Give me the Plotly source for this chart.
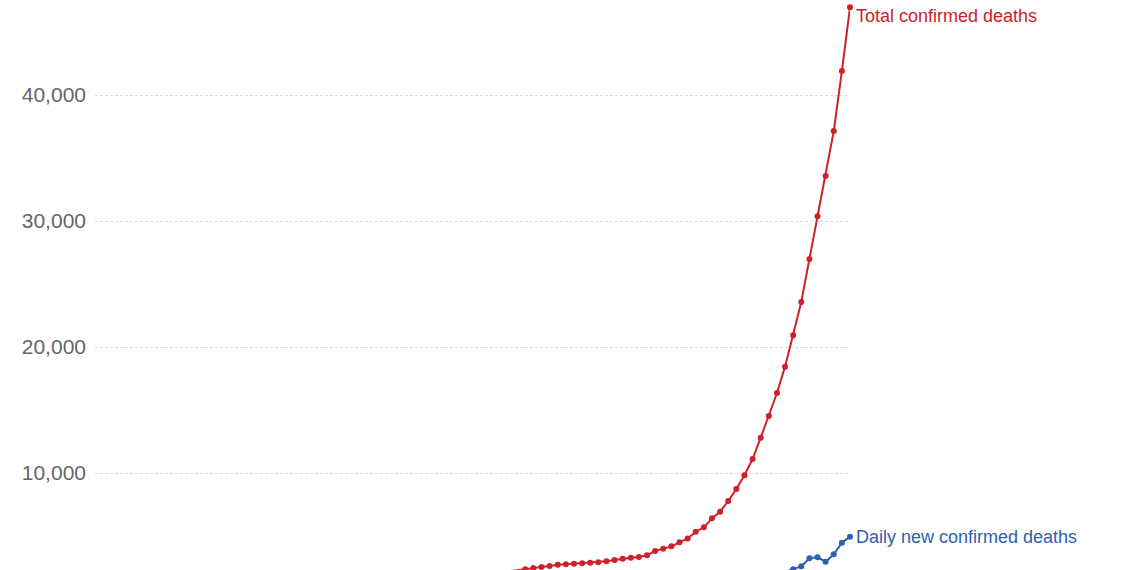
import plotly.graph_objects as go

# World COVID-19 deaths (visible part of the chart)
total_dates = [
    "2020-02-20", "2020-02-21", "2020-02-22", "2020-02-23", "2020-02-24", "2020-02-25",
    "2020-02-26", "2020-02-27", "2020-02-28", "2020-02-29", "2020-03-01", "2020-03-02",
    "2020-03-03", "2020-03-04", "2020-03-05", "2020-03-06", "2020-03-07", "2020-03-08",
    "2020-03-09", "2020-03-10", "2020-03-11", "2020-03-12", "2020-03-13", "2020-03-14",
    "2020-03-15", "2020-03-16", "2020-03-17", "2020-03-18", "2020-03-19", "2020-03-20",
    "2020-03-21", "2020-03-22", "2020-03-23", "2020-03-24", "2020-03-25", "2020-03-26",
    "2020-03-27", "2020-03-28", "2020-03-29", "2020-03-30", "2020-03-31", "2020-04-01",
    "2020-04-02",
]
total_deaths = [
    2200, 2300, 2360, 2460, 2540, 2620,
    2720, 2750, 2800, 2830, 2880, 2910,
    2990, 3100, 3200, 3280, 3330, 3470,
    3810, 3990, 4180, 4500, 4810, 5340,
    5690, 6400, 6930, 7780, 8730, 9820,
    11110, 12800, 14520, 16350, 18440, 20930,
    23570, 26980, 30370, 33570, 37140, 41900,
    46960,
]

daily_dates = [
    "2020-03-25", "2020-03-26", "2020-03-27", "2020-03-28", "2020-03-29",
    "2020-03-30", "2020-03-31", "2020-04-01", "2020-04-02",
]
daily_deaths = [2160, 2360, 2590, 3230, 3310, 2960, 3550, 4470, 4950]

y_ticks = [10000, 20000, 30000, 40000]
y_tick_labels = ["10,000", "20,000", "30,000", "40,000"]

RED = "#cf2129"
BLUE = "#2e5fb0"

fig = go.Figure()

fig.add_trace(go.Scatter(
    x=total_dates,
    y=total_deaths,
    mode='lines+markers',
    name='Total confirmed deaths',
    line=dict(color=RED, width=2),
    marker=dict(color=RED, size=6),
    cliponaxis=False
))

fig.add_trace(go.Scatter(
    x=daily_dates,
    y=daily_deaths,
    mode='lines+markers',
    name='Daily new confirmed deaths',
    line=dict(color=BLUE, width=2),
    marker=dict(color=BLUE, size=6),
    cliponaxis=False
))

# End-of-line labels
fig.add_annotation(
    x=total_dates[-1], y=total_deaths[-1],
    text='Total confirmed deaths',
    showarrow=False, xanchor='left', yanchor='middle',
    xshift=4, yshift=-9,
    font=dict(color=RED, size=18)
)
fig.add_annotation(
    x=daily_dates[-1], y=daily_deaths[-1],
    text='Daily new confirmed deaths',
    showarrow=False, xanchor='left', yanchor='middle',
    xshift=4,
    font=dict(color=BLUE, size=18)
)

fig.update_layout(
    width=1140,
    height=570,
    plot_bgcolor='white',
    paper_bgcolor='white',
    showlegend=False,
    font=dict(family='Liberation Sans, Arial, sans-serif'),
    margin=dict(l=95, r=290, t=0, b=0),
    xaxis=dict(
        range=["2019-12-31", "2020-04-02"],
        showgrid=False,
        showticklabels=False,
        showline=False,
        zeroline=False
    ),
    yaxis=dict(
        range=[2302, 47540],
        tickvals=y_ticks,
        ticktext=y_tick_labels,
        tickfont=dict(size=21, color='#666666'),
        gridcolor='#dddddd',
        griddash='3px,2px',
        zeroline=False,
        showline=False,
        ticks='',
        ticklabelstandoff=8
    )
)

# drop the default page margin so the figure sits at the window's corner
fig.write_html(
    "out.html",
    config={'displayModeBar': False},
    post_script="document.body.style.margin='0';"
)
